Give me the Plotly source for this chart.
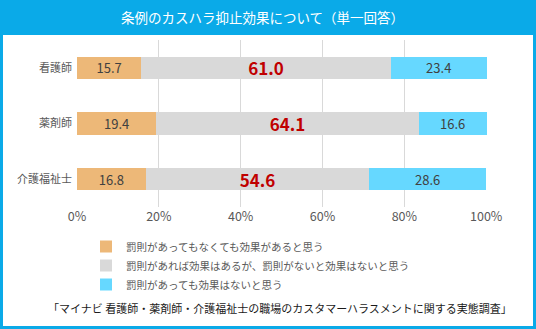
import plotly.graph_objects as go

categories = ["看護師", "薬剤師", "介護福祉士"]
series_names = [
    "罰則があってもなくても効果があると思う",
    "罰則があれば効果はあるが、罰則がないと効果はないと思う",
    "罰則があっても効果はないと思う",
]
s1 = [15.7, 19.4, 16.8]
s2 = [61.0, 64.1, 54.6]
s3 = [23.4, 16.6, 28.6]
tick_vals = [0, 20, 40, 60, 80, 100]
tick_text = ["0%", "20%", "40%", "60%", "80%", "100%"]
title_text = "条例のカスハラ抑止効果について（単一回答）"
source_text = "「マイナビ 看護師・薬剤師・介護福祉士の職場のカスタマーハラスメントに関する実態調査」"

FONT = "Noto Sans CJK JP"
W, H = 536, 329
L, R, T, B = 77, 49, 40, 122
PW = W - L - R
PH = H - T - B


def px(X):
    return (X - L) / PW


def py(Y):
    return (H - B - Y) / PH


colors = ["#EDB878", "#D9D9D9", "#66D8FF"]
values = [s1, s2, s3]
text_fonts = [
    dict(family=FONT, size=13, color="#404040"),
    dict(family=FONT, size=17, color="#C00000", weight="bold"),
    dict(family=FONT, size=13, color="#404040"),
]

fig = go.Figure()
for name, vals, col, tf in zip(series_names, values, colors, text_fonts):
    fig.add_trace(go.Bar(
        y=categories, x=vals, name=name, orientation="h",
        marker=dict(color=col, line=dict(width=0)),
        texttemplate="%{x:.1f}", textposition="inside",
        insidetextanchor="middle", textfont=tf,
        constraintext="none", cliponaxis=False,
        hoverinfo="skip",
    ))

fig.update_layout(
    width=W, height=H,
    margin=dict(l=L, r=R, t=T, b=B, pad=0),
    barmode="stack", bargap=0.6,
    paper_bgcolor="white", plot_bgcolor="white",
    font=dict(family=FONT, color="#595959"),
    showlegend=True,
    legend=dict(
        orientation="v", x=px(86), y=py(232), xanchor="left", yanchor="top",
        font=dict(family=FONT, size=10.5, color="#595959"),
        traceorder="normal", itemclick=False, itemdoubleclick=False,
        itemwidth=30,
        bgcolor="rgba(0,0,0,0)", tracegroupgap=0,
    ),
    xaxis=dict(
        range=[0, 100.2], tickvals=tick_vals, ticktext=tick_text,
        showgrid=True, gridcolor="#D9D9D9", gridwidth=1,
        zeroline=False, showline=False, ticks="",
        tickfont=dict(family=FONT, size=12.5, color="#595959"),
        fixedrange=True,
    ),
    yaxis=dict(
        categoryorder="array", categoryarray=categories[::-1],
        showgrid=False, zeroline=False, showline=False, ticks="",
        tickfont=dict(family=FONT, size=11, color="#595959"),
        ticklabelstandoff=4,
        fixedrange=True,
    ),
    uniformtext=dict(mode=False),
    shapes=[
        dict(type="rect", xref="paper", yref="paper",
             x0=px(0), x1=px(W), y0=py(35), y1=py(0),
             fillcolor="#0AAAE8", line=dict(width=0), layer="below"),
        dict(type="rect", xref="paper", yref="paper",
             x0=px(1.5), x1=px(W - 1.5), y0=py(H - 1.5), y1=py(1.5),
             fillcolor="rgba(0,0,0,0)", line=dict(width=3, color="#0AAAE8"),
             layer="above"),
    ],
    annotations=[
        dict(text=title_text, xref="paper", yref="paper",
             x=px(262), y=py(17), xanchor="center", yanchor="middle",
             showarrow=False, font=dict(family=FONT, size=13.5, color="white")),
        dict(text=source_text, xref="paper", yref="paper",
             x=px(514), y=py(308), xanchor="right", yanchor="middle",
             showarrow=False, font=dict(family=FONT, size=11, color="#1A1A1A")),
    ],
)

fig.write_html("out.html", config=dict(displayModeBar=False))
